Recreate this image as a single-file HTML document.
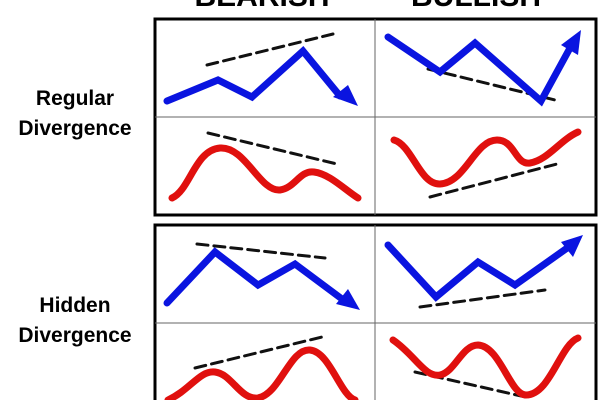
<!DOCTYPE html>
<html><head><style>
html,body{margin:0;padding:0;background:#fff;width:600px;height:400px;overflow:hidden}
text{font-family:"Liberation Sans",sans-serif;font-weight:bold}
</style></head><body>
<svg width="600" height="400" viewBox="0 0 600 400" xmlns="http://www.w3.org/2000/svg">
<rect width="600" height="400" fill="#fff"/>
<text x="262" y="6" font-size="30" text-anchor="middle" fill="#000">BEARISH</text>
<text x="476" y="6" font-size="30" text-anchor="middle" fill="#000">BULLISH</text>
<text x="75" y="105" font-size="21" text-anchor="middle">Regular</text>
<text x="75" y="135" font-size="21" text-anchor="middle">Divergence</text>
<text x="75" y="312" font-size="21" text-anchor="middle">Hidden</text>
<text x="75" y="342" font-size="21" text-anchor="middle">Divergence</text>
<!-- boxes -->
<rect x="155" y="19" width="441" height="196" fill="none" stroke="#000" stroke-width="3"/>
<line x1="375" y1="19" x2="375" y2="215" stroke="#666" stroke-width="1"/>
<line x1="155" y1="117" x2="596" y2="117" stroke="#666" stroke-width="1"/>
<rect x="155" y="225" width="441" height="180" fill="none" stroke="#000" stroke-width="3"/>
<line x1="375" y1="225" x2="375" y2="400" stroke="#666" stroke-width="1"/>
<line x1="155" y1="323" x2="596" y2="323" stroke="#666" stroke-width="1"/>
<g fill="none" stroke-linecap="round" stroke-linejoin="miter">
<!-- dashed -->
<g stroke="#111" stroke-width="3" stroke-dasharray="11 6">
<line x1="207" y1="65" x2="333" y2="34"/>
<line x1="428" y1="69" x2="555" y2="100"/>
<line x1="208" y1="133" x2="337" y2="164"/>
<line x1="430" y1="197" x2="557" y2="164"/>
<line x1="197" y1="244" x2="325" y2="258"/>
<line x1="420" y1="307" x2="545" y2="290"/>
<line x1="195" y1="368" x2="322" y2="337"/>
<line x1="415" y1="372" x2="530" y2="398"/>
</g>
<!-- blue -->
<g stroke="#0a14e0" stroke-width="7">
<polyline points="167,101 218,80 252,97 303,51 340,96"/>
<polyline points="388,37 440,72 475,43 541,101 570,48"/>
<polyline points="167,303 215,252 258,285 295,264 342,299"/>
<polyline points="388,245 436,297 478,262 515,285 570,246"/>
</g>
<!-- red -->
<g stroke="#e0100e" stroke-width="7">
<path d="M172,198 C190,190 195,150 220,148 C245,146 260,192 280,190 C295,188 300,170 314,172 C330,174 345,190 358,198"/>
<path d="M394,140 C412,145 420,185 440,184 C465,183 475,140 497,140 C515,140 515,165 530,163 C548,160 560,140 578,132"/>
<path d="M168,400 C190,390 200,370 215,372 C232,374 240,400 258,398 C280,394 290,348 310,350 C330,352 340,395 355,400"/>
<path d="M393,340 C415,355 425,378 440,375 C455,372 462,345 478,345 C500,346 510,395 526,395 C550,395 560,345 578,338"/>
</g>
</g>
<!-- arrowheads -->
<g fill="#0a14e0">
<polygon points="358,106 333,97 348,85"/>
<polygon points="581,30 578,55 561,45"/>
<polygon points="360,310 336,304 348,289"/>
<polygon points="583,235 573,257 561,242"/>
</g>
</svg>
</body></html>
